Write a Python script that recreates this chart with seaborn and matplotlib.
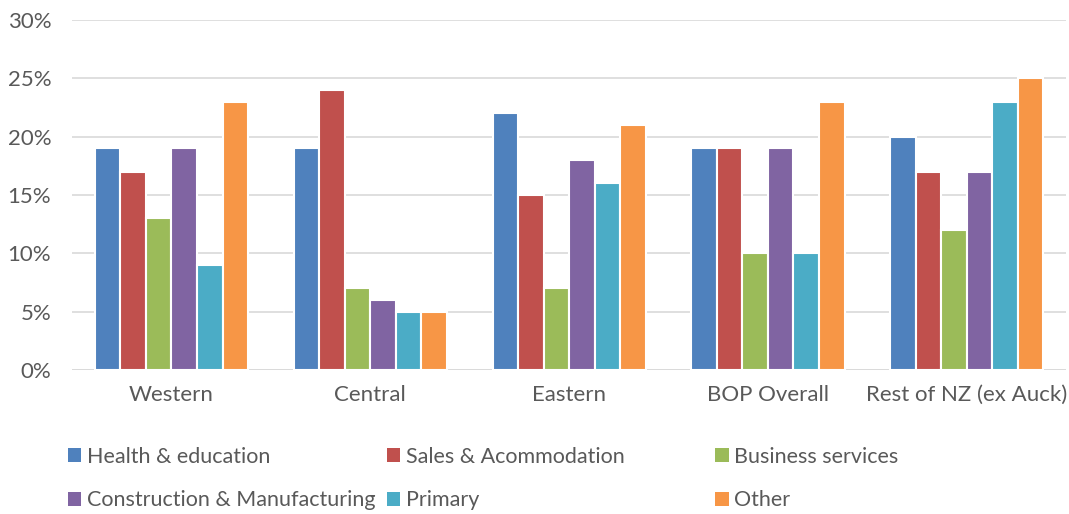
import matplotlib
matplotlib.use("Agg")
import matplotlib.pyplot as plt
import seaborn as sns
import pandas as pd
from matplotlib.ticker import PercentFormatter
from matplotlib.patches import Patch

regions = ["Western", "Central", "Eastern", "BOP Overall", "Rest of NZ (ex Auck)"]
sectors = ["Health & education", "Sales & Acommodation", "Business services",
           "Construction & Manufacturing", "Primary", "Other"]
health = [19, 19, 22, 19, 20]
sales = [17, 24, 15, 19, 17]
business = [13, 7, 7, 10, 12]
construction = [19, 6, 18, 19, 17]
primary = [9, 5, 16, 10, 23]
other = [23, 5, 21, 23, 25]
colors = ["#4F81BD", "#C0504D", "#9BBB59", "#8064A2", "#4BACC6", "#F79646"]

series = [health, sales, business, construction, primary, other]
rows = []
for sector, vals in zip(sectors, series):
    for region, v in zip(regions, vals):
        rows.append({"Region": region, "Sector": sector, "Share": v / 100})
df = pd.DataFrame(rows)

sns.set_theme(style="white")
plt.rcParams["font.family"] = ["Lato", "DejaVu Sans"]
text_color = "#595959"
fs = 16

fig = plt.figure(figsize=(10.69, 5.14), dpi=100)
ax = fig.add_axes([0.0674, 0.280, 0.930, 0.681])

sns.barplot(data=df, x="Region", y="Share", hue="Sector", order=regions,
            hue_order=sectors, palette=colors, width=0.77, saturation=1,
            edgecolor="white", linewidth=1.5, legend=False, ax=ax, zorder=3)

ax.set_ylim(0, 0.30)
ax.set_yticks([0, 0.05, 0.10, 0.15, 0.20, 0.25, 0.30])
ax.yaxis.set_major_formatter(PercentFormatter(1.0, decimals=0))
ax.grid(axis="y", color="#D9D9D9", linewidth=1.2, zorder=0)
ax.grid(axis="x", visible=False)
for s in ax.spines.values():
    s.set_visible(False)
ax.axhline(0, color="#D9D9D9", linewidth=1.2, zorder=1)
ax.set_xlabel("")
ax.set_ylabel("")
ax.tick_params(axis="both", length=0, labelsize=fs, colors=text_color)
ax.tick_params(axis="x", pad=11)
ax.tick_params(axis="y", pad=15)

# legend laid out in three equal-width columns, two rows
col_x = [0.0635, 0.362, 0.669]
for c in range(3):
    idxs = [c, c + 3]
    handles = [Patch(facecolor=colors[i], edgecolor="none") for i in idxs]
    labels = [sectors[i] for i in idxs]
    leg = fig.legend(handles, labels, loc="lower left",
                     bbox_to_anchor=(col_x[c], 0.007), frameon=False,
                     fontsize=15.5, handlelength=0.62, handleheight=0.62,
                     handletextpad=0.25, labelspacing=1.1, borderaxespad=0,
                     borderpad=0)
    for t in leg.get_texts():
        t.set_color(text_color)

fig.savefig("out.png", dpi=100)
